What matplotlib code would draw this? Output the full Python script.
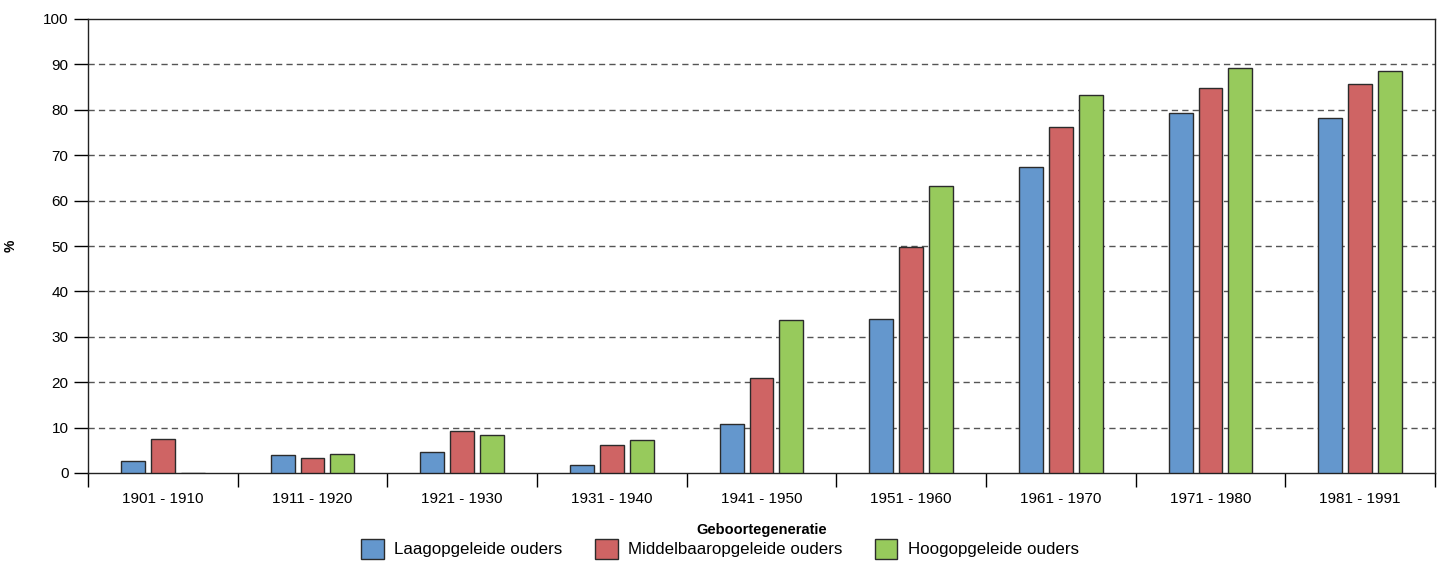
import matplotlib
matplotlib.use("Agg")
import matplotlib.pyplot as plt
import numpy as np

plt.rcParams['font.family'] = ['Liberation Sans', 'DejaVu Sans']

categories = ["1901 - 1910", "1911 - 1920", "1921 - 1930", "1931 - 1940", "1941 - 1950",
              "1951 - 1960", "1961 - 1970", "1971 - 1980", "1981 - 1991"]
laag = [2.6, 4.0, 4.6, 1.8, 10.9, 34.0, 67.5, 79.2, 78.3]
middelbaar = [7.5, 3.3, 9.3, 6.2, 21.0, 49.8, 76.3, 84.9, 85.7]
hoog = [0.1, 4.2, 8.4, 7.3, 33.7, 63.2, 83.2, 89.1, 88.5]
series_labels = ["Laagopgeleide ouders", "Middelbaaropgeleide ouders", "Hoogopgeleide ouders"]
colors = ["#6497CD", "#CF6464", "#97CA5C"]

fig = plt.figure(figsize=(14.4, 5.67), dpi=100)
ax = fig.add_axes([88 / 1440, 1 - 473 / 567, (1435 - 88) / 1440, (473 - 19) / 567])

x = np.arange(len(categories))
width = 0.16
offset = 0.2
for i, (vals, lab, col) in enumerate(zip([laag, middelbaar, hoog], series_labels, colors)):
    ax.bar(x + (i - 1) * offset, vals, width, color=col, edgecolor="#2b2b2b",
           linewidth=1.0, label=lab, zorder=3)

ax.set_xlim(-0.5, len(categories) - 0.5)
ax.set_ylim(0, 100)
ax.set_yticks(np.arange(0, 101, 10))
ax.tick_params(axis='y', direction='out', length=10, width=1, labelsize=11, pad=4)

ax.set_xticks(x)
ax.set_xticklabels(categories, fontsize=11)
ax.tick_params(axis='x', which='major', length=0, pad=14)
ax.set_xticks(np.arange(-0.5, len(categories), 1.0), minor=True)
ax.tick_params(axis='x', which='minor', direction='out', length=10, width=1)

for v in range(10, 100, 10):
    ax.axhline(v, color="#555555", linestyle=(0, (4.5, 3)), linewidth=1.0, zorder=1)

for s in ax.spines.values():
    s.set_color("#222222")
    s.set_linewidth(1.0)

ax.set_xlabel("Geboortegeneratie", fontsize=10.5, fontweight='bold', labelpad=12)
ax.set_ylabel("%", fontsize=10, fontweight='bold', labelpad=18)

fig.legend(loc='lower center', bbox_to_anchor=(0.5, -0.012), ncol=3, frameon=False,
           fontsize=12.2, handlelength=1.35, handleheight=1.4, columnspacing=1.9,
           handletextpad=0.6)

fig.savefig("out.png", dpi=100)
